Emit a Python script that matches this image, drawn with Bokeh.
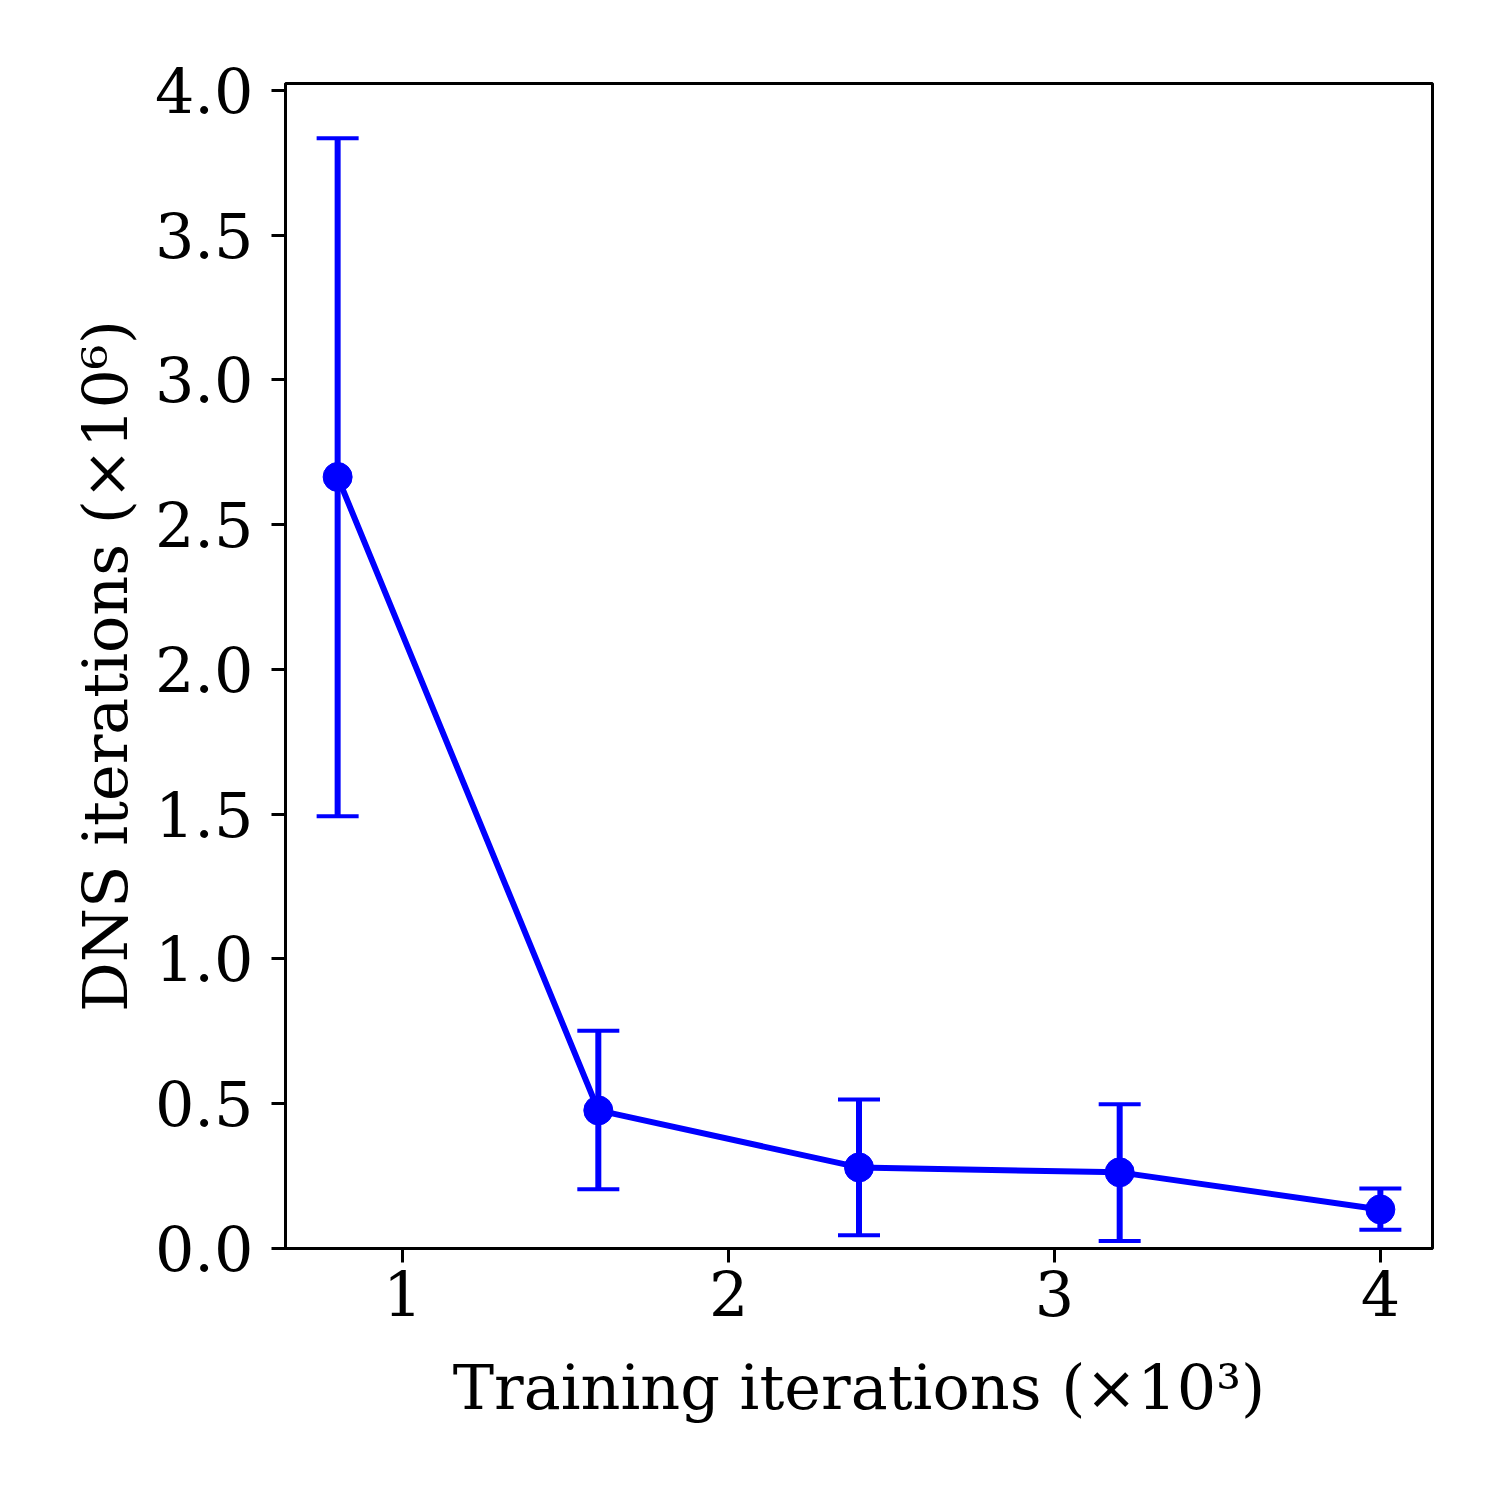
from bokeh.plotting import figure
from bokeh.models import ColumnDataSource, Whisker, TeeHead, FixedTicker, Range1d, NumeralTickFormatter
from bokeh.embed import file_html
from bokeh.resources import INLINE

# Data
training_iters = [0.8, 1.6, 2.4, 3.2, 4.0]          # x 10^3
dns_mean = [2.665, 0.477, 0.280, 0.263, 0.135]     # x 10^6
dns_upper = [3.835, 0.752, 0.515, 0.498, 0.207]
dns_lower = [1.493, 0.205, 0.046, 0.026, 0.065]
x_ticks = [1, 2, 3, 4]
y_ticks = [0.0, 0.5, 1.0, 1.5, 2.0, 2.5, 3.0, 3.5, 4.0]

FONT = "DejaVu Serif"
BLUE = "#0000ff"

src = ColumnDataSource(dict(x=training_iters, y=dns_mean, upper=dns_upper, lower=dns_lower))

p = figure(width=1492, height=1492, output_backend="svg", toolbar_location=None,
           x_range=Range1d(0.64, 4.16), y_range=Range1d(0.0, 4.024),
           min_border_left=285, min_border_right=60, min_border_top=83, min_border_bottom=244)

p.xgrid.visible = False
p.ygrid.visible = False
p.outline_line_color = "black"
p.outline_line_width = 3
p.outline_line_alpha = 1.0

p.line("x", "y", source=src, line_color=BLUE, line_width=6)
wh = Whisker(source=src, base="x", upper="upper", lower="lower", dimension="height",
             line_color=BLUE, line_width=6,
             upper_head=TeeHead(size=42, line_color=BLUE, line_width=4),
             lower_head=TeeHead(size=42, line_color=BLUE, line_width=4))
p.add_layout(wh)
p.scatter("x", "y", source=src, size=29, fill_color=BLUE, line_color=BLUE)

for ax in (p.xaxis[0], p.yaxis[0]):
    ax.axis_line_width = 3
    ax.axis_line_color = "black"
    ax.major_tick_line_width = 3
    ax.major_tick_line_color = "black"
    ax.major_tick_out = 14
    ax.major_tick_in = 0
    ax.minor_tick_line_color = None
    ax.major_label_text_font = FONT
    ax.major_label_text_font_size = "62px"
    ax.major_label_text_color = "black"
    ax.axis_label_text_font = FONT
    ax.axis_label_text_font_size = "62px"
    ax.axis_label_text_font_style = "normal"
    ax.axis_label_text_color = "black"

p.xaxis[0].ticker = FixedTicker(ticks=x_ticks)
p.yaxis[0].ticker = FixedTicker(ticks=y_ticks)
p.yaxis[0].formatter = NumeralTickFormatter(format="0.0")
p.xaxis[0].axis_label = "Training iterations (×10³)"
p.yaxis[0].axis_label = "DNS iterations (×10⁶)"
p.xaxis[0].major_label_standoff = 8
p.yaxis[0].major_label_standoff = 18
p.xaxis[0].axis_label_standoff = 32
p.yaxis[0].axis_label_standoff = 10

open("out.html", "w").write(file_html(p, INLINE))
